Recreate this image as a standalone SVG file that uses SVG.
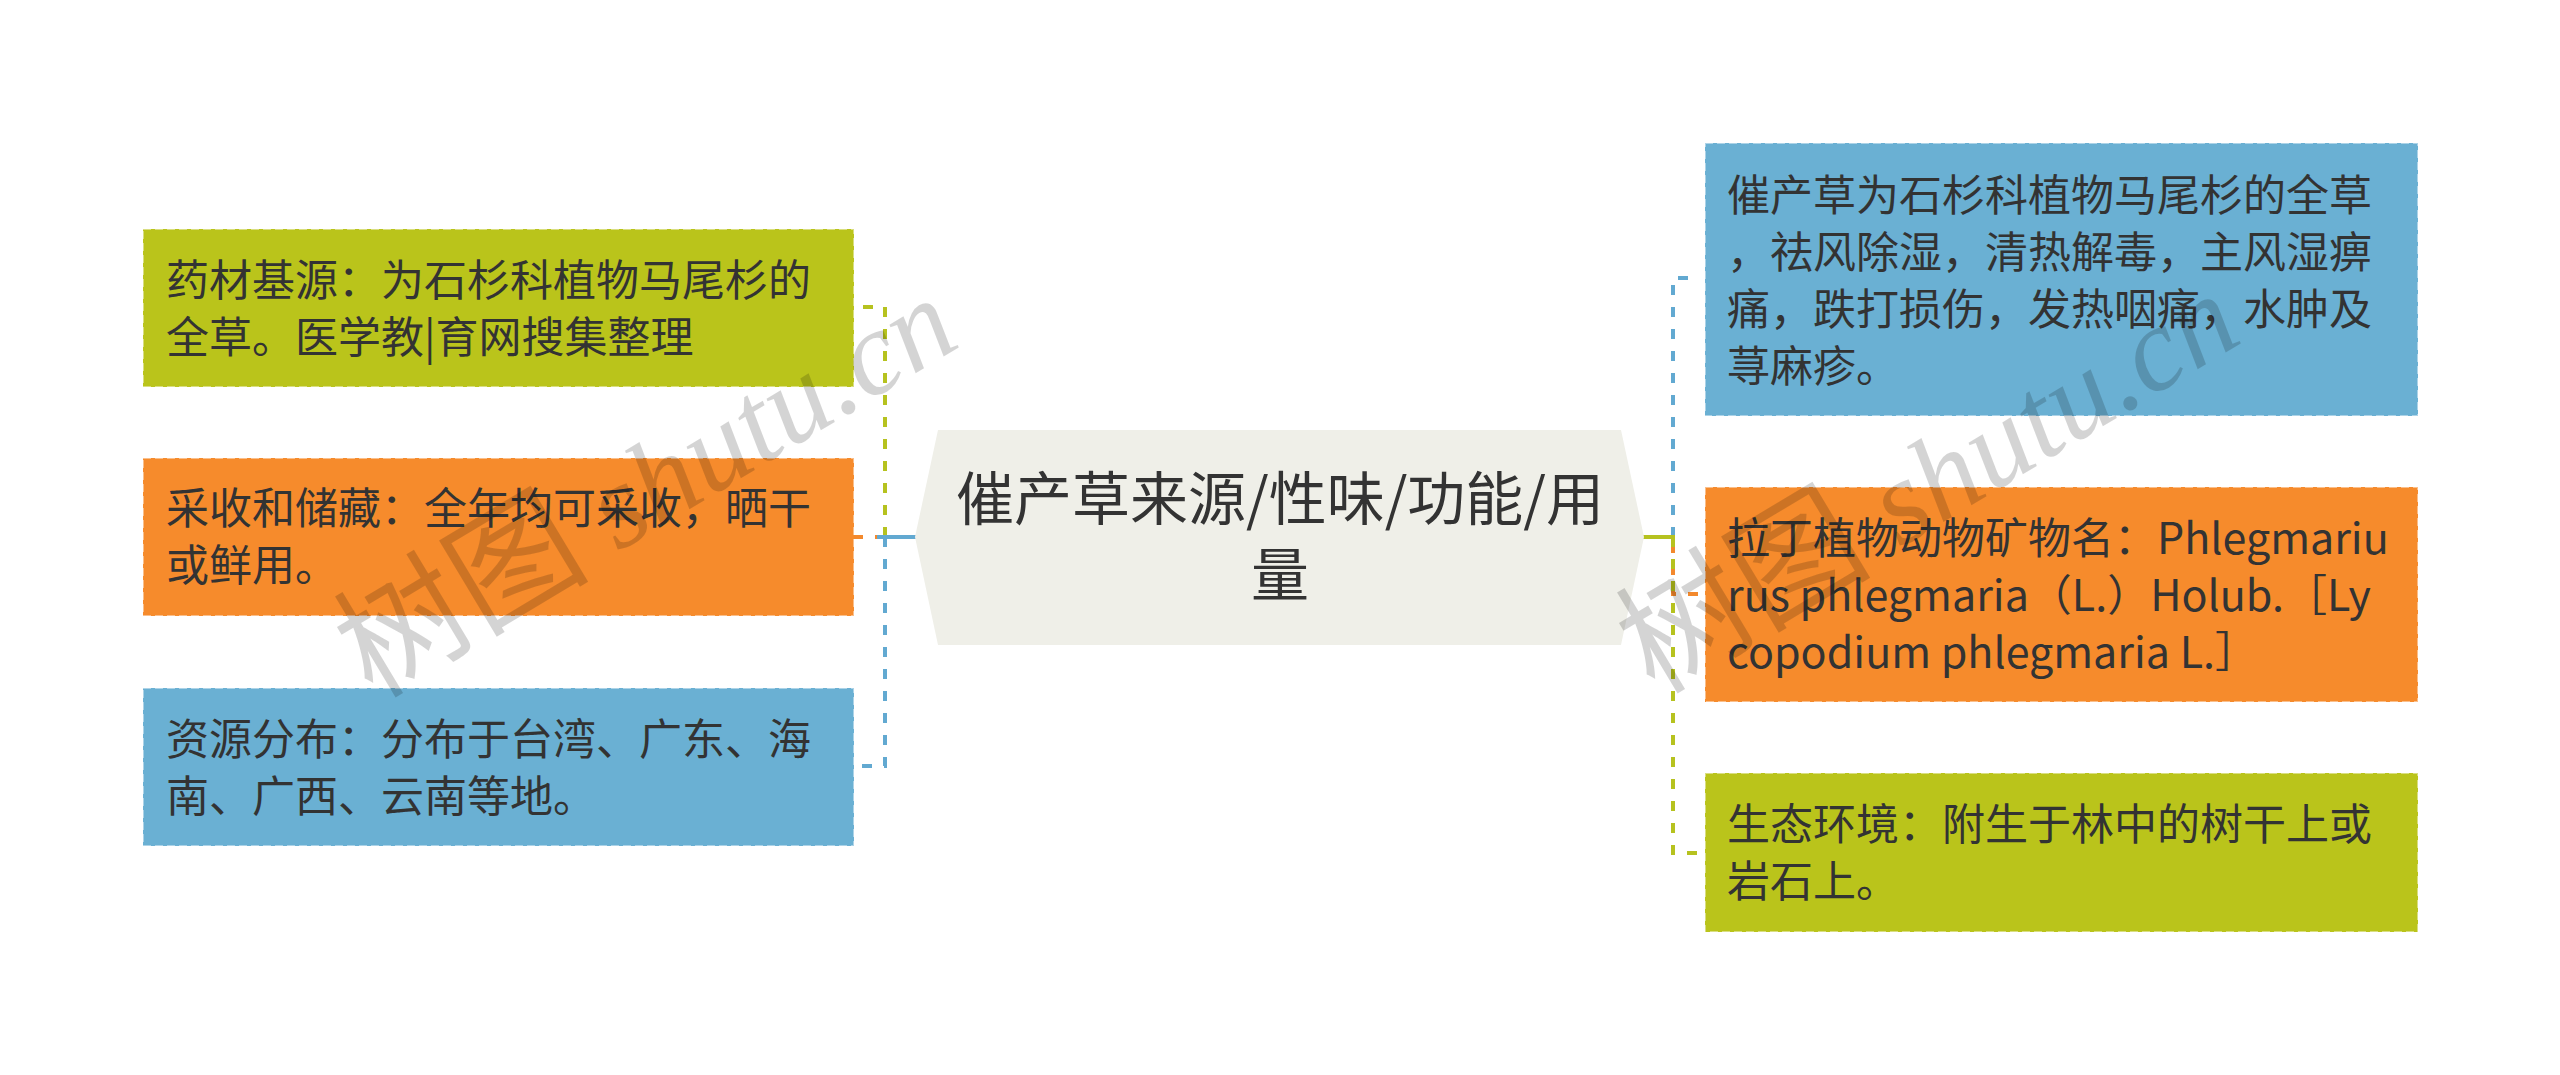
<svg xmlns="http://www.w3.org/2000/svg" width="2560" height="1075" viewBox="0 0 2560 1075">
<style>
text{font-family:"Noto Sans CJK SC","Noto Sans",sans-serif;fill:#333333}
.t{font-size:43px}
.root{font-size:58px;text-anchor:middle}
.box{stroke:#ffffff;stroke-opacity:0.45;stroke-width:2;stroke-dasharray:8 4}
.g{fill:#bac41b}.o{fill:#f68b2c}.b{fill:#6ab0d3}
.cg{stroke:#b6c21f;fill:none;stroke-width:4;stroke-dasharray:10 12}
.co{stroke:#f3892d;fill:none;stroke-width:4;stroke-dasharray:10 12}
.cb{stroke:#62a9d1;fill:none;stroke-width:4;stroke-dasharray:10 12}
.wm{font-family:"Liberation Serif","Noto Sans CJK SC",serif;font-size:120px;fill:#000000;fill-opacity:0.17;font-style:italic;text-anchor:middle}
.wc{font-style:normal;font-family:"Noto Sans CJK SC",sans-serif;font-size:128px}
</style>
<rect width="2560" height="1075" fill="#ffffff"/>
<g id="connectors">
<path class="cg" d="M885 537 V307 H862"/>
<path class="co" d="M853 537 H885" stroke-dasharray="8 6"/>
<path class="cb" d="M885 537 V766 H862"/>
<path d="M877 537 H918" stroke="#62a9d1" stroke-width="4" fill="none"/>
<path class="cb" d="M1673 537 V278 H1700"/>
<path class="co" d="M1673 537 V594 H1700" stroke-dashoffset="-6"/>
<path class="cg" d="M1673 537 V853 H1700"/>
<path d="M1642 537 H1675" stroke="#b6c21f" stroke-width="4" fill="none"/>
</g>
<g id="root">
<polygon points="938,430 1621,430 1644,537 1621,645 938,645 915,537" fill="#efefe8"/>
<text class="root" x="1280" y="520">催产草来源/性味/功能/用</text>
<text class="root" x="1280" y="596">量</text>
</g>
<g id="n1">
<rect class="box g" x="143" y="229" width="711" height="158"/>
<text class="t" x="166" y="296">药材基源：为石杉科植物马尾杉的</text>
<text class="t" x="166" y="353">全草。医学教|育网搜集整理</text>
</g>
<g id="n2">
<rect class="box o" x="143" y="458" width="711" height="158"/>
<text class="t" x="166" y="524">采收和储藏：全年均可采收，晒干</text>
<text class="t" x="166" y="581">或鲜用。</text>
</g>
<g id="n3">
<rect class="box b" x="143" y="688" width="711" height="158"/>
<text class="t" x="166" y="755">资源分布：分布于台湾、广东、海</text>
<text class="t" x="166" y="812">南、广西、云南等地。</text>
</g>
<g id="n4">
<rect class="box b" x="1705" y="143" width="713" height="273"/>
<text class="t" x="1727" y="211">催产草为石杉科植物马尾杉的全草</text>
<text class="t" x="1727" y="268">，祛风除湿，清热解毒，主风湿痹</text>
<text class="t" x="1727" y="325">痛，跌打损伤，发热咽痛，水肿及</text>
<text class="t" x="1727" y="382">荨麻疹。</text>
</g>
<g id="n5">
<rect class="box o" x="1705" y="487" width="713" height="215"/>
<text class="t" x="1727" y="554">拉丁植物动物矿物名：Phlegmariu</text>
<text class="t" x="1727" y="611">rus phlegmaria（L.）Holub.［Ly</text>
<text class="t" x="1727" y="668">copodium phlegmaria L.］</text>
</g>
<g id="n6">
<rect class="box g" x="1705" y="773" width="713" height="159"/>
<text class="t" x="1727" y="840">生态环境：附生于林中的树干上或</text>
<text class="t" x="1727" y="897">岩石上。</text>
</g>
<g id="watermarks">
<text class="wm" transform="translate(668,522) rotate(-31)"><tspan class="wc">树图</tspan> shutu.cn</text>
<text class="wm" transform="translate(1950,518) rotate(-31)"><tspan class="wc">树图</tspan> shutu.cn</text>
</g>
</svg>
